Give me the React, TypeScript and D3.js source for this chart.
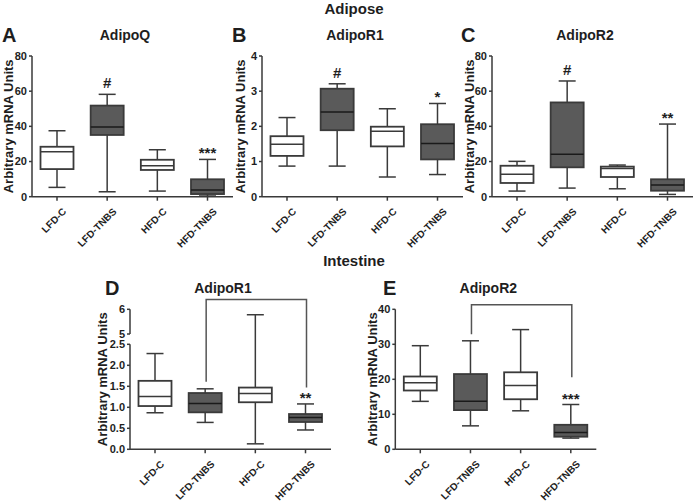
import React from "react";
import * as d3 from "d3";

const groups = ["LFD-C", "LFD-TNBS", "HFD-C", "HFD-TNBS"];
const filled = [false, true, false, true];

// [min, q1, median, q3, max]
const adipoQ = [
  [5.3, 15.7, 25.6, 28.4, 37.5],
  [2.8, 35.1, 39.6, 51.8, 58.2],
  [3.2, 15.2, 17.6, 21.0, 26.7],
  [0.4, 1.5, 3.8, 9.9, 21.2],
];
const adipoR1Adipose = [
  [0.87, 1.16, 1.49, 1.72, 2.25],
  [0.87, 1.89, 2.41, 3.07, 3.21],
  [0.56, 1.43, 1.86, 1.99, 2.5],
  [0.63, 1.06, 1.51, 2.06, 2.65],
];
const adipoR2Adipose = [
  [3.2, 7.8, 12.7, 17.6, 20.1],
  [4.9, 16.7, 24.1, 53.6, 65.8],
  [4.5, 11.2, 16.1, 17.1, 18.0],
  [1.3, 3.4, 6.6, 9.9, 41.3],
];
const adipoR1Intestine = [
  [0.87, 1.03, 1.26, 1.63, 2.28],
  [0.64, 0.88, 1.09, 1.34, 1.44],
  [0.13, 1.12, 1.33, 1.47, 5.78],
  [0.46, 0.65, 0.76, 0.84, 1.08],
];
const adipoR2Intestine = [
  [13.7, 16.8, 19.0, 20.8, 29.6],
  [6.7, 11.2, 13.7, 21.5, 31.0],
  [11.0, 14.3, 18.2, 22.0, 34.2],
  [3.2, 3.6, 4.8, 7.0, 12.8],
];

const ticksQ = [0, 20, 40, 60, 80];
const ticksR1A = [0, 1, 2, 3, 4];
const ticksR2A = [0, 20, 40, 60, 80];
const ticksR1ILow = [0, 0.5, 1.0, 1.5, 2.0, 2.5];
const ticksR1IHigh = [5, 6];
const ticksR2I = [0, 10, 20, 30, 40];

const marksA = ["", "#", "", "***"];
const marksB = ["", "#", "", "*"];
const marksC = ["", "#", "", "**"];
const marksD = ["", "", "", "**"];
const marksE = ["", "", "", "***"];

// bracket: [top value, left leg end value, right leg end value]
const bracketD = [6.4, 1.61, 1.47];
const bracketE = [41.3, 32.9, 20.6];

const FONT = "'Liberation Sans', Arial, Helvetica, sans-serif";
const TEXT = "#1e1e1e";
const LINE = "#3a3a3a";
const DARK = "#5a5a5a";

type YMap = (v: number) => number;

interface PanelProps {
  letter: string;
  letterX: number;
  title: string;
  axisX: number;
  yLabelOffset: number;
  yMap: YMap;
  yTop: number;
  yBottom: number;
  data: number[][];
  marks: string[];
  tickGroups: { ticks: number[]; fmt: (v: number) => string; y0: number; y1: number }[];
  bracket?: number[];
}

function Panel(p: PanelProps) {
  const x = d3.scalePoint<string>().domain(groups).range([p.axisX + 25, p.axisX + 175.5]);
  const axisEnd = p.axisX + 201;
  const bw = 33;
  const cw = 17;
  const midY = (p.yTop + p.yBottom) / 2;
  return (
    <g>
      <text x={p.letterX} y={p.yTop - 14} fontSize={20} fontWeight="bold" fill={TEXT} fontFamily={FONT}>
        {p.letter}
      </text>
      <text x={p.axisX + 93} y={p.yTop - 16} fontSize={14} fontWeight="bold" fill={TEXT} textAnchor="middle" fontFamily={FONT}>
        {p.title}
      </text>
      <text
        transform={`translate(${p.axisX - p.yLabelOffset},${midY}) rotate(-90)`}
        textAnchor="middle"
        dy="0.35em"
        fontSize={13}
        fontWeight="bold"
        fill={TEXT}
        fontFamily={FONT}
      >
        Arbitrary mRNA Units
      </text>
      {p.tickGroups.map((tg, i) => (
        <g key={i}>
          <line x1={p.axisX} x2={p.axisX} y1={tg.y0} y2={tg.y1} stroke={LINE} strokeWidth={1.5} />
          {tg.ticks.map((t) => (
            <g key={t}>
              <line x1={p.axisX - 3} x2={p.axisX} y1={p.yMap(t)} y2={p.yMap(t)} stroke={LINE} strokeWidth={1.5} />
              <text
                x={p.axisX - 5}
                y={p.yMap(t)}
                dy="0.35em"
                textAnchor="end"
                fontSize={11}
                fontWeight="bold"
                fill={TEXT}
                fontFamily={FONT}
              >
                {tg.fmt(t)}
              </text>
            </g>
          ))}
        </g>
      ))}
      <line x1={p.axisX} x2={axisEnd} y1={p.yBottom} y2={p.yBottom} stroke={LINE} strokeWidth={1.5} />
      {groups.map((g) => (
        <g key={g}>
          <line x1={x(g)!} x2={x(g)!} y1={p.yBottom} y2={p.yBottom + 4} stroke={LINE} strokeWidth={1.5} />
          <text
            transform={`translate(${x(g)! + 7.5},${p.yBottom + 13}) rotate(-45)`}
            textAnchor="end"
            dy="0.35em"
            fontSize={10}
            fontWeight="bold"
            fill={TEXT}
            fontFamily={FONT}
          >
            {g}
          </text>
        </g>
      ))}
      {p.data.map((d, i) => {
        const cx = x(groups[i])!;
        const [mn, q1, md, q3, mx] = d;
        const f = filled[i];
        return (
          <g key={i}>
            <line x1={cx} x2={cx} y1={p.yMap(mx)} y2={p.yMap(q3)} stroke={LINE} strokeWidth={1.5} />
            <line x1={cx} x2={cx} y1={p.yMap(q1)} y2={p.yMap(mn)} stroke={LINE} strokeWidth={1.5} />
            <line x1={cx - cw / 2} x2={cx + cw / 2} y1={p.yMap(mx)} y2={p.yMap(mx)} stroke={LINE} strokeWidth={1.5} />
            <line x1={cx - cw / 2} x2={cx + cw / 2} y1={p.yMap(mn)} y2={p.yMap(mn)} stroke={LINE} strokeWidth={1.5} />
            <rect
              x={cx - bw / 2}
              y={p.yMap(q3)}
              width={bw}
              height={p.yMap(q1) - p.yMap(q3)}
              fill={f ? DARK : "#ffffff"}
              stroke={LINE}
              strokeWidth={1.8}
            />
            <line x1={cx - bw / 2} x2={cx + bw / 2} y1={p.yMap(md)} y2={p.yMap(md)} stroke={f ? "#1a1a1a" : LINE} strokeWidth={1.5} />
            {p.marks[i] ? (
              <text
                x={cx}
                y={p.yMap(mx) - (p.marks[i] === "#" ? 6 : 1)}
                textAnchor="middle"
                fontSize={15}
                fontWeight="bold"
                fill={TEXT}
                fontFamily={FONT}
              >
                {p.marks[i]}
              </text>
            ) : null}
          </g>
        );
      })}
      {p.bracket ? (
        <path
          d={`M${x(groups[1])! + 1},${p.yMap(p.bracket[1])} V${p.yMap(p.bracket[0])} H${x(groups[3])! + 1} V${p.yMap(p.bracket[2])}`}
          fill="none"
          stroke="#555"
          strokeWidth={1.5}
        />
      ) : null}
    </g>
  );
}

export default function App() {
  const yTopA = 56;
  const yBotA = 196.7;
  const yQ = d3.scaleLinear().domain([0, 80]).range([yBotA, yTopA]);
  const yR1 = d3.scaleLinear().domain([0, 4]).range([yBotA, yTopA]);
  const yR2 = d3.scaleLinear().domain([0, 80]).range([yBotA, yTopA]);

  const yBotI = 449.3;
  const yDLow = d3.scaleLinear().domain([0, 2.5]).range([yBotI, 344.3]);
  const yDHigh = d3.scaleLinear().domain([5, 6]).range([334, 309.3]);
  const yD: YMap = (v) => (v <= 2.5 ? yDLow(v) : yDHigh(v));
  const yE = d3.scaleLinear().domain([0, 40]).range([yBotI, 309.3]);

  const f0 = d3.format("d");
  const f1 = d3.format(".1f");

  return (
    <svg width={694} height={501} style={{ position: "absolute", left: 0, top: 0, background: "#fff" }}>
      <rect width={694} height={501} fill="#fff" />
      <text x={354} y={14} textAnchor="middle" fontSize={15} fontWeight="bold" fill={TEXT} fontFamily={FONT}>
        Adipose
      </text>
      <text x={354} y={266} textAnchor="middle" fontSize={15} fontWeight="bold" fill={TEXT} fontFamily={FONT}>
        Intestine
      </text>
      <Panel
        letter="A"
        letterX={2}
        title="AdipoQ"
        axisX={32}
        yLabelOffset={24}
        yMap={yQ}
        yTop={yTopA}
        yBottom={yBotA}
        data={adipoQ}
        marks={marksA}
        tickGroups={[{ ticks: ticksQ, fmt: f0, y0: yBotA, y1: yTopA }]}
      />
      <Panel
        letter="B"
        letterX={232}
        title="AdipoR1"
        axisX={262}
        yLabelOffset={22}
        yMap={yR1}
        yTop={yTopA}
        yBottom={yBotA}
        data={adipoR1Adipose}
        marks={marksB}
        tickGroups={[{ ticks: ticksR1A, fmt: f0, y0: yBotA, y1: yTopA }]}
      />
      <Panel
        letter="C"
        letterX={461}
        title="AdipoR2"
        axisX={492}
        yLabelOffset={23}
        yMap={yR2}
        yTop={yTopA}
        yBottom={yBotA}
        data={adipoR2Adipose}
        marks={marksC}
        tickGroups={[{ ticks: ticksR2A, fmt: f0, y0: yBotA, y1: yTopA }]}
      />
      <Panel
        letter="D"
        letterX={105}
        title="AdipoR1"
        axisX={130}
        yLabelOffset={28}
        yMap={yD}
        yTop={309.3}
        yBottom={yBotI}
        data={adipoR1Intestine}
        marks={marksD}
        bracket={bracketD}
        tickGroups={[
          { ticks: ticksR1ILow, fmt: f1, y0: yBotI, y1: 344.3 },
          { ticks: ticksR1IHigh, fmt: f0, y0: 334, y1: 309.3 },
        ]}
      />
      <Panel
        letter="E"
        letterX={383}
        title="AdipoR2"
        axisX={395.3}
        yLabelOffset={23}
        yMap={yE}
        yTop={309.3}
        yBottom={yBotI}
        data={adipoR2Intestine}
        marks={marksE}
        bracket={bracketE}
        tickGroups={[{ ticks: ticksR2I, fmt: f0, y0: yBotI, y1: 309.3 }]}
      />
    </svg>
  );
}
